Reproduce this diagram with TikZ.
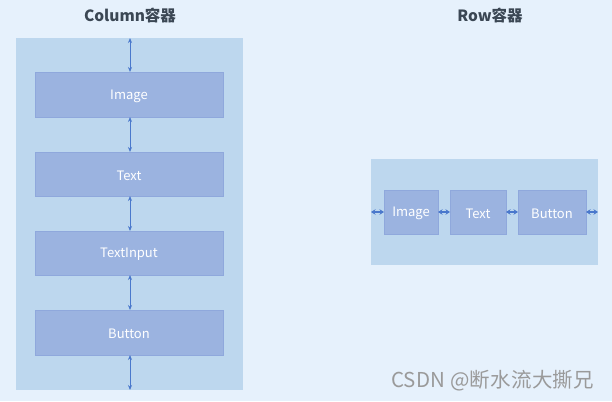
\documentclass[tikz,border=0pt]{standalone}
\usepackage{fontspec}
\setmainfont{Noto Sans CJK SC}
\newfontfamily\cjk{Noto Sans CJK SC}
\usetikzlibrary{arrows.meta}
\definecolor{bgc}{HTML}{E6F1FC}
\definecolor{contc}{HTML}{BDD7EE}
\definecolor{boxc}{HTML}{9BB3E0}
\definecolor{boxb}{HTML}{8FA8DC}
\definecolor{arrc}{HTML}{4A78CC}
\definecolor{titc}{HTML}{3B4754}
\definecolor{wmc}{HTML}{9A9A9A}
\tikzset{
  cont/.style={fill=contc, draw=none},
  itembox/.style={fill=boxc, draw=boxb, line width=0.8pt},
  itemtext/.style={text=white, font=\fontsize{13}{15}\selectfont},
  gap/.style={arrc, line width=0.8pt, {Stealth[length=5pt,width=4pt]}-{Stealth[length=5pt,width=4pt]}},
  title/.style={text=titc, font=\fontsize{15.5}{18}\selectfont\bfseries},
}
\begin{document}
\begin{tikzpicture}[x=1pt,y=-1pt]
\fill[bgc] (0,0) rectangle (612,401);
\useasboundingbox (0,0) rectangle (612,401);
% Column
\node[title] (t1) at (130,16) {Column容器};
\fill[cont] (16,38) rectangle (243,390);
\coordinate (ctop) at (130,38);
\coordinate (cbot) at (130,390);
\draw[itembox] (35,72) rectangle (223,117);
\node[itemtext] (cimg) at (129,96.5) {Image};
\draw[itembox] (35,152) rectangle (223,196);
\node[itemtext] (ctxt) at (129,175.5) {Text};
\draw[itembox] (35,231) rectangle (223,275);
\node[itemtext] (cinp) at (129,254.5) {TextInput};
\draw[itembox] (35,310) rectangle (223,355);
\node[itemtext] (cbtn) at (129,333.5) {Button};
\coordinate (a1) at (130,72);
\coordinate (a2) at (130,117);
\coordinate (a3) at (130,152);
\coordinate (a4) at (130,196);
\coordinate (a5) at (130,231);
\coordinate (a6) at (130,275);
\coordinate (a7) at (130,310);
\coordinate (a8) at (130,355);
\draw[gap] (ctop) -- (a1);
\draw[gap] (a2) -- (a3);
\draw[gap] (a4) -- (a5);
\draw[gap] (a6) -- (a7);
\draw[gap] (a8) -- (cbot);
% Row
\node[title] (t2) at (490,16) {Row容器};
\fill[cont] (371,159) rectangle (598,265);
\draw[itembox] (384,190) rectangle (438,234);
\node[itemtext] (rimg) at (411,213.5) {Image};
\draw[itembox] (450,190) rectangle (506,234);
\node[itemtext] (rtxt) at (478,213.5) {Text};
\draw[itembox] (518,190) rectangle (586,234);
\node[itemtext] (rbtn) at (552,213.5) {Button};
\coordinate (r0) at (371,212);
\coordinate (r1) at (384,212);
\coordinate (r2) at (438,212);
\coordinate (r3) at (450,212);
\coordinate (r4) at (506,212);
\coordinate (r5) at (518,212);
\coordinate (r6) at (586,212);
\coordinate (r7) at (598,212);
\tikzset{hgap/.style={arrc, line width=1.2pt, {Stealth[length=4.5pt,width=5.5pt]}-{Stealth[length=4.5pt,width=5.5pt]}}}
\draw[hgap] (r0) -- (r1);
\draw[hgap] (r2) -- (r3);
\draw[hgap] (r4) -- (r5);
\draw[hgap] (r6) -- (r7);
% watermark
\node[text=wmc, font=\fontsize{20.5}{23}\selectfont\addfontfeatures{LetterSpace=1}, anchor=west, inner sep=0pt] (wm) at (391,381) {CSDN @断水流大撕兄};
\end{tikzpicture}
\end{document}
